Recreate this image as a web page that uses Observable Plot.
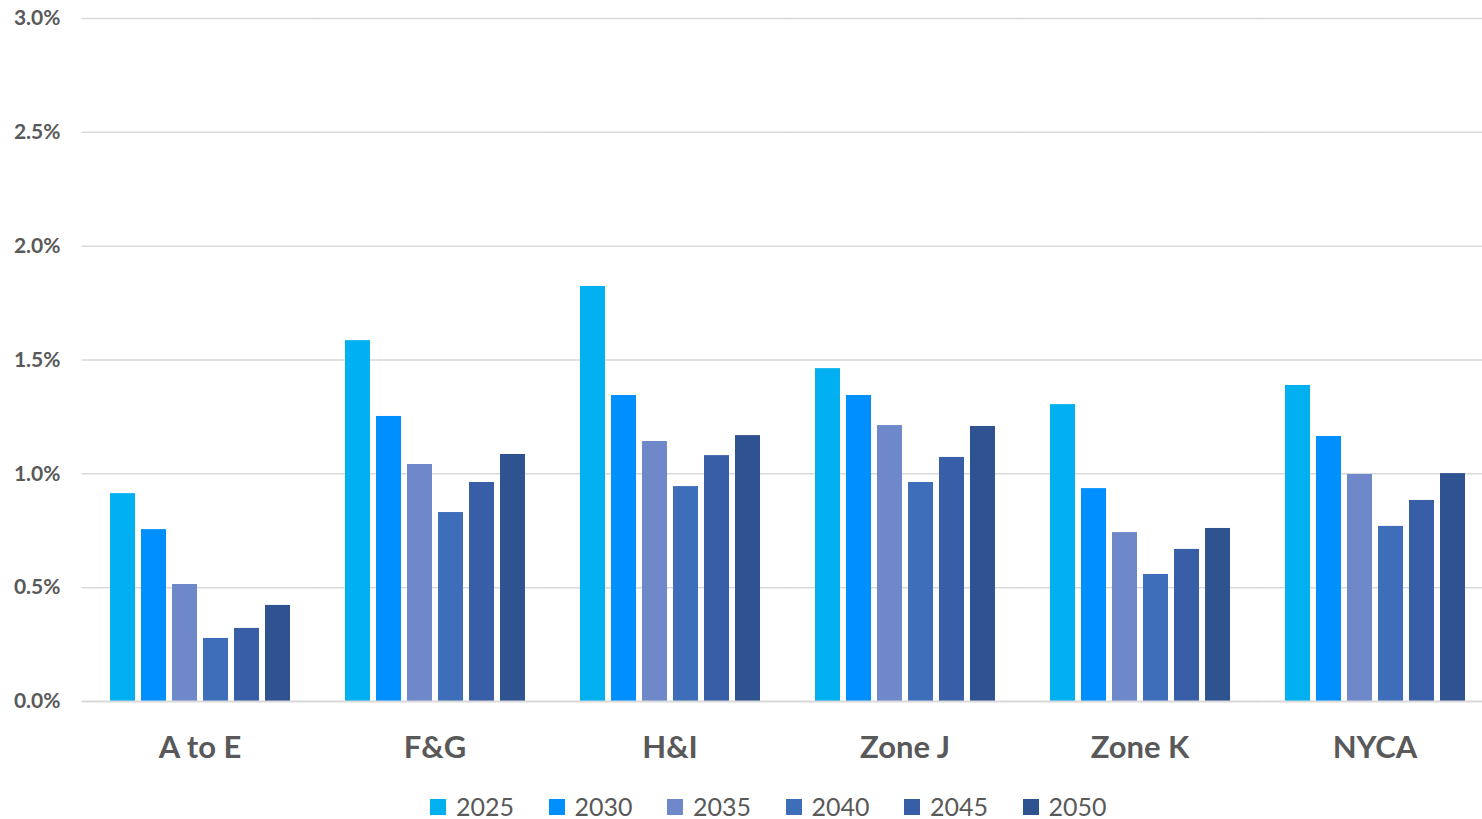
<!DOCTYPE html>
<html>
<head>
<meta charset="utf-8">
<script src="https://cdn.jsdelivr.net/npm/d3@7"></script>
<script src="https://cdn.jsdelivr.net/npm/@observablehq/plot@0.6"></script>
<style>
  html, body { margin: 0; padding: 0; background: #fff; overflow: hidden; width: 1482px; height: 819px; }
  #chart { position: absolute; left: 0; top: 0; width: 1482px; height: 770px; overflow: hidden; }
  #chart svg { max-width: none !important; }
  #legend { position: absolute; left: 430px; top: 794px; display: flex; font-family: Lato, "Open Sans", sans-serif; font-size: 25px; color: #595959; line-height: 25px; }
  .item { display: flex; align-items: center; width: 118.5px; }
  .sw { width: 16px; height: 16px; margin-right: 10px; }
</style>
</head>
<body>
<div id="chart"></div>
<div id="legend"></div>
<script>
const zones = ["A to E", "F&G", "H&I", "Zone J", "Zone K", "NYCA"];
const years = ["2025", "2030", "2035", "2040", "2045", "2050"];
const colors = ["#00B0F0", "#008FFF", "#6E88CA", "#3E6DBA", "#375EA7", "#2F5291"];
const v2025 = [0.913, 1.585, 1.823, 1.462, 1.304, 1.388];
const v2030 = [0.755, 1.252, 1.344, 1.344, 0.935, 1.164];
const v2035 = [0.514, 1.041, 1.142, 1.212, 0.742, 0.997];
const v2040 = [0.277, 0.830, 0.944, 0.962, 0.558, 0.769];
const v2045 = [0.321, 0.962, 1.080, 1.072, 0.668, 0.883];
const v2050 = [0.422, 1.085, 1.168, 1.208, 0.760, 1.001];
const yTicks = [0, 0.5, 1.0, 1.5, 2.0, 2.5, 3.0];

const series = [v2025, v2030, v2035, v2040, v2045, v2050];
const rows = [];
zones.forEach((z, i) => years.forEach((y, j) => rows.push({zone: z, year: y, value: series[j][i] / 100})));

const chart = Plot.plot({
  width: 1492,
  height: 770,
  marginLeft: 82,
  marginRight: 0,
  marginTop: 18,
  marginBottom: 69,
  style: {fontFamily: "Lato, 'Open Sans', sans-serif", background: "#fff", maxWidth: "none"},
  fx: {domain: zones, paddingInner: 0.17, paddingOuter: 0.085, label: null},
  x: {domain: years, axis: null, paddingInner: 0.2, paddingOuter: 0.225},
  y: {domain: [0, 0.03], label: null},
  color: {domain: years, range: colors},
  marks: [
    Plot.gridY(yTicks.filter(d => d > 0).map(d => d / 100), {stroke: "#d9d9d9", strokeOpacity: 1, strokeWidth: 1.5, insetLeft: -20.5, insetRight: -20.5}),
    Plot.axisY(yTicks.map(d => d / 100), {tickSize: 0, tickPadding: 42, tickFormat: d3.format(".1%"), fontSize: 21, fontWeight: "bold", fill: "#595959", label: null}),
    Plot.barY(rows, {fx: "zone", x: "year", y: "value", fill: "year"}),
    Plot.ruleY([0], {stroke: "#d9d9d9", strokeWidth: 2, insetLeft: -20.5, insetRight: -20.5}),
    Plot.axisFx({anchor: "bottom", tickSize: 0, tickPadding: 34, fontSize: 31, fontWeight: "bold", fill: "#595959", label: null})
  ]
});
document.getElementById("chart").appendChild(chart);

const legend = document.getElementById("legend");
years.forEach((y, j) => {
  const item = document.createElement("div");
  item.className = "item";
  const sw = document.createElement("div");
  sw.className = "sw";
  sw.style.background = colors[j];
  const t = document.createElement("span");
  t.textContent = y;
  item.appendChild(sw);
  item.appendChild(t);
  legend.appendChild(item);
});
</script>
</body>
</html>
